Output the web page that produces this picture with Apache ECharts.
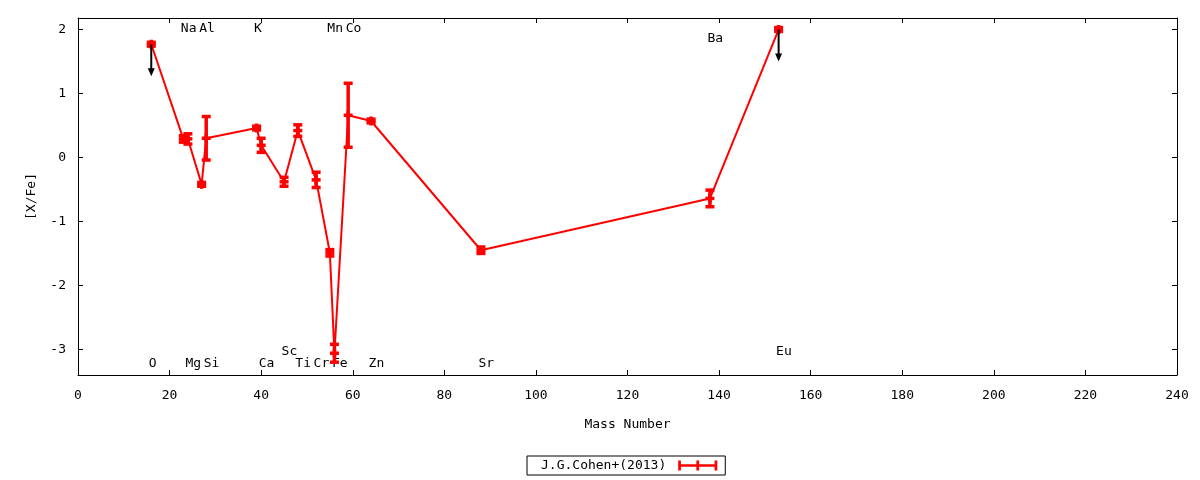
<!DOCTYPE html>
<html>
<head>
<meta charset="utf-8">
<script src="https://cdn.jsdelivr.net/npm/echarts@6/dist/echarts.min.js"></script>
<style>
  html, body { margin: 0; padding: 0; background: #fff; }
  #chart { width: 1200px; height: 480px; }
</style>
</head>
<body>
<div id="chart"></div>
<script>
// Abundance pattern data
const elements = ['O', 'Na', 'Mg', 'Al', 'Si', 'K', 'Ca', 'Sc', 'Ti', 'Cr', 'Mn', 'Fe', 'Co', 'Zn', 'Sr', 'Ba', 'Eu'];
const massNumbers = [16, 23, 24, 27, 28, 39, 40, 45, 48, 52, 55, 56, 59, 64, 88, 138, 153];
const abundances = [1.77, 0.29, 0.29, -0.42, 0.30, 0.46, 0.19, -0.38, 0.42, -0.35, -1.49, -3.06, 0.66, 0.57, -1.45, -0.64, 2.00];
const errors = [0.03, 0.05, 0.08, 0.03, 0.34, 0.03, 0.11, 0.07, 0.09, 0.12, 0.05, 0.14, 0.50, 0.03, 0.05, 0.13, 0.03];
// element labels: top row / bottom row of the plot
const labelLevels = [-3.23, 2.01, -3.23, 2.01, -3.23, 2.01, -3.23, -3.03, -3.23, -3.23, 2.01, -3.23, 2.01, -3.23, -3.23, 1.85, -3.03];
// upper limits (arrow down by 0.5 dex)
const upperLimits = ['O', 'Eu'];
const limitLength = 0.5;

const xTicks = { min: 0, max: 240, interval: 20 };
const yTicks = { min: -3.4, max: 2.18 };
const yTickValues = [-3, -2, -1, 0, 1, 2];

const seriesName = 'J.G.Cohen+(2013)';
const FONT = 'DejaVu Sans Mono';
const RED = '#ff0000';

const chart = echarts.init(document.getElementById('chart'));

const points = massNumbers.map((m, i) => [m, abundances[i], errors[i]]);
const labelData = elements.map((e, i) => [massNumbers[i], labelLevels[i], e]);
const limitData = upperLimits.map(e => {
    const i = elements.indexOf(e);
    return [massNumbers[i], abundances[i], abundances[i] - limitLength];
});

function renderError(params, api) {
    const x = api.value(0), y = api.value(1), e = api.value(2);
    const c = api.coord([x, y]);
    const hi = api.coord([x, y + e]);
    const lo = api.coord([x, y - e]);
    const hw = 4.5;
    const style = { stroke: RED, lineWidth: 3.5 };
    return {
        type: 'group',
        children: [
            { type: 'line', shape: { x1: c[0], y1: hi[1], x2: c[0], y2: lo[1] }, style },
            { type: 'line', shape: { x1: c[0] - hw, y1: hi[1], x2: c[0] + hw, y2: hi[1] }, style },
            { type: 'line', shape: { x1: c[0] - hw, y1: lo[1], x2: c[0] + hw, y2: lo[1] }, style },
            { type: 'line', shape: { x1: c[0] - hw, y1: c[1], x2: c[0] + hw, y2: c[1] }, style },
            { type: 'line', shape: { x1: c[0], y1: c[1] - hw, x2: c[0], y2: c[1] + hw }, style }
        ]
    };
}

function renderArrow(params, api) {
    const x = api.value(0);
    const a = api.coord([x, api.value(1)]);
    const b = api.coord([x, api.value(2)]);
    return {
        type: 'group',
        children: [
            { type: 'line', shape: { x1: a[0], y1: a[1], x2: b[0], y2: b[1] - 4 }, style: { stroke: '#000', lineWidth: 2 } },
            { type: 'polygon', shape: { points: [[b[0] - 3.5, b[1] - 8], [b[0] + 3.5, b[1] - 8], [b[0], b[1]]] }, style: { fill: '#000' } }
        ]
    };
}

function renderLabel(params, api) {
    const c = api.coord([api.value(0), api.value(1)]);
    return {
        type: 'text',
        x: c[0] - 2.5,
        y: c[1],
        style: {
            text: labelData[params.dataIndex][2],
            font: '13px "' + FONT + '"',
            fill: '#000',
            align: 'left',
            verticalAlign: 'middle'
        }
    };
}

const axisCommon = {
    type: 'value',
    axisLine: { show: true, onZero: false, lineStyle: { color: '#000', width: 1 } },
    axisTick: { show: true, inside: true, length: 5, lineStyle: { color: '#000' } },
    splitLine: { show: false }
};

chart.setOption({
    animation: false,
    textStyle: { fontFamily: FONT },
    grid: { left: 78, right: 23, top: 18, bottom: 105, containLabel: false },
    legend: {
        data: [seriesName],
        left: 527,
        top: 456,
        align: 'right',
        itemWidth: 43,
        itemHeight: 10,
        itemGap: 0,
        icon: 'path://M0,4H43V7H0Z M0,0H3V11H0Z M20,0H23V11H20Z M40,0H43V11H40Z',
        borderColor: '#000',
        borderWidth: 1,
        borderRadius: 0,
        padding: [3, 8, 3, 14],
        textStyle: { fontFamily: FONT, fontSize: 13, color: '#000', padding: [0, 5, 0, 0] },
        itemStyle: { color: RED }
    },
    xAxis: [
        Object.assign({}, axisCommon, {
            min: xTicks.min, max: xTicks.max, interval: xTicks.interval,
            name: 'Mass Number', nameLocation: 'middle', nameGap: 43,
            nameTextStyle: { fontFamily: FONT, fontSize: 13, color: '#000' },
            axisLabel: { margin: 14, fontFamily: FONT, fontSize: 13, color: '#000' }
        }),
        Object.assign({}, axisCommon, {
            position: 'top',
            min: xTicks.min, max: xTicks.max, interval: xTicks.interval,
            axisLabel: { show: false }
        })
    ],
    yAxis: [
        Object.assign({}, axisCommon, {
            min: yTicks.min, max: yTicks.max,
            name: '[X/Fe]', nameLocation: 'middle', nameGap: 40,
            nameTextStyle: { fontFamily: FONT, fontSize: 13, color: '#000' },
            axisLabel: {
                margin: 12, fontFamily: FONT, fontSize: 13, color: '#000',
                customValues: yTickValues
            },
            axisTick: { show: true, inside: true, length: 5, lineStyle: { color: '#000' }, customValues: yTickValues }
        }),
        Object.assign({}, axisCommon, {
            position: 'right',
            min: yTicks.min, max: yTicks.max,
            axisLabel: { show: false },
            axisTick: { show: true, inside: true, length: 5, lineStyle: { color: '#000' }, customValues: yTickValues }
        })
    ],
    series: [
        {
            name: 'labels',
            type: 'custom',
            renderItem: renderLabel,
            data: labelData.map(d => [d[0], d[1]]),
            z: 1,
            silent: true
        },
        {
            name: seriesName,
            type: 'line',
            data: points.map(p => [p[0], p[1]]),
            showSymbol: false,
            symbol: 'none',
            lineStyle: { color: RED, width: 2 },
            itemStyle: { color: RED },
            z: 3
        },
        {
            name: 'errors',
            type: 'custom',
            renderItem: renderError,
            data: points,
            z: 4
        },
        {
            name: 'limits',
            type: 'custom',
            renderItem: renderArrow,
            data: limitData,
            z: 5
        }
    ]
});
</script>
</body>
</html>
